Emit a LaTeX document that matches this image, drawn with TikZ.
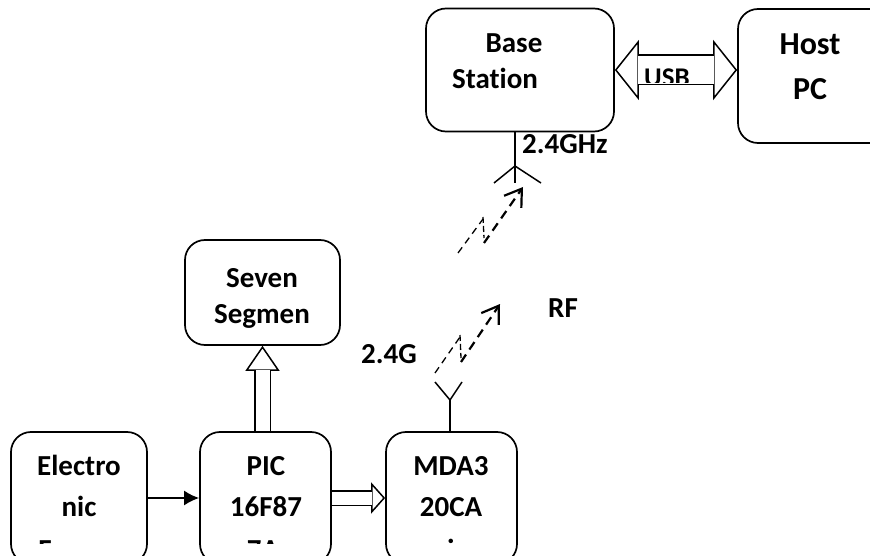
\documentclass[tikz,border=0pt]{standalone}
\usepackage{fontspec}
\setmainfont{Carlito}[Ligatures=NoCommon]
\usetikzlibrary{arrows.meta}
\tikzset{
  box/.style={draw, line width=1.7pt, rounded corners=20pt, inner sep=0pt},
  lbl/.style={anchor=base, inner sep=0pt, font=\bfseries\fontsize{29}{29}\selectfont},
  shaft/.style={double, double distance=#1, line width=1.5pt},
  wire/.style={line width=1.5pt},
  wave/.style={line width=1.3pt, dash pattern=on 7pt off 5pt},
  wavethick/.style={line width=2.2pt, dash pattern=on 9pt off 6pt},
  openhead/.style={-{Straight Barb[length=16pt, width=21pt, line width=2.2pt]}}
}
\begin{document}
\begin{tikzpicture}[x=1pt, y=-1pt, >=latex, line join=round]
  \path[use as bounding box, clip] (0, 0) rectangle (870, 556);

  % Blocks
  \node[box, minimum width=188pt, minimum height=123pt] (base) at (520, 70) {};
  \node[box, minimum width=152pt, minimum height=134pt] (host) at (814, 76) {};
  \node[box, minimum width=155pt, minimum height=105pt] (seven) at (262.5, 292.5) {};
  \node[box, minimum width=136pt, minimum height=132pt] (elec) at (79, 498) {};
  \node[box, minimum width=131pt, minimum height=132pt] (pic) at (265.5, 498) {};
  \node[box, minimum width=131pt, minimum height=132pt] (mda) at (451.5, 498) {};

  % Labels
  \node[lbl] (baseA) at (514, 52.5) {Base};
  \node[lbl] (baseB) at (495, 88.5) {Station};
  \node[lbl, font=\bfseries\fontsize{32}{32}\selectfont] (hostA) at (810, 54.5) {Host};
  \node[lbl, font=\bfseries\fontsize{32}{32}\selectfont] (hostB) at (810, 99.5) {PC};
  \node[lbl] (sevenA) at (262, 287.5) {Seven};
  \node[lbl] (sevenB) at (262, 323.5) {Segmen};
  \node[lbl] (elecA) at (79, 475.5) {Electro};
  \node[lbl] (elecB) at (79, 516.5) {nic};
  \node[lbl] (picA) at (266, 475.5) {PIC};
  \node[lbl] (picB) at (266, 516.5) {16F87};
  \node[lbl] (mdaA) at (451, 475.5) {MDA3};
  \node[lbl] (mdaB) at (451, 516.5) {20CA};
  \node[lbl, anchor=base west] (ghzA) at (522, 153.5) {2.4GHz};
  \node[lbl, anchor=base west] (ghzB) at (361, 363.5) {2.4G};
  \node[lbl, anchor=base west] (rf) at (548, 317.5) {RF};

  % Third lines, cut off
  \begin{scope}
    \clip (0, 520) rectangle (870, 543);
    \node[lbl] (elecC) at (45, 559) {F};
    \node[lbl] (picC) at (263, 559) {7A};
    \node[lbl] (mdaC) at (451, 559) {i};
  \end{scope}

  % Links
  \draw[line width=2pt, -{Latex[length=15pt, width=15pt]}] (elec) -- (pic);

  \draw[wire, -{Triangle[open, fill=white, length=14pt, width=31pt]}] (pic.east) -- (mda.west);
  \draw[shaft=13pt, shorten >=13pt] (pic.east) -- (mda.west);

  \draw[wire, -{Triangle[open, fill=white, length=25pt, width=34pt]}] (seven.south |- pic.north) -- (seven.south);
  \draw[shaft=14pt, shorten >=24pt] (seven.south |- pic.north) -- (seven.south);

  \draw[wire, {Triangle[open, fill=white, length=24pt, width=60pt]}-{Triangle[open, fill=white, length=24pt, width=60pt]}]
    (base.east) -- (base.east -| host.west);
  \draw[shaft=28pt, shorten <=23pt, shorten >=23pt] (base.east) -- (base.east -| host.west);

  % USB, cut off by the lower shaft
  \begin{scope}
    \clip (600, 60) rectangle (760, 83);
    \node[lbl, font=\bfseries\fontsize{27}{27}\selectfont] (usb) at (667, 87) {USB};
  \end{scope}

  % Antenna on the base station
  \coordinate (baseJ) at (515, 166);
  \draw[wire] (base.south -| baseJ) -- (baseJ) -- (515, 183);
  \draw[wire] (494, 183) -- (baseJ) -- (541, 183);

  % Antenna on the radio
  \coordinate (mdaJ) at (450, 400);
  \draw[wire] (mda.north -| mdaJ) -- (mdaJ);
  \draw[wire] (435, 382) -- (mdaJ) -- (462, 382);

  % Upper RF link
  \draw[wave] (458, 253) -- (483, 219);
  \draw[wave, dash pattern=on 6pt off 3pt] (483, 217) -- (484, 238);
  \draw[wavethick, openhead] (484, 243) -- (523, 187);

  % Lower RF link
  \draw[wave] (435, 373) -- (460, 337);
  \draw[wave, dash pattern=on 6pt off 3pt] (460, 335) -- (461, 358);
  \draw[wavethick, openhead] (461, 362) -- (500, 304);
\end{tikzpicture}
\end{document}
